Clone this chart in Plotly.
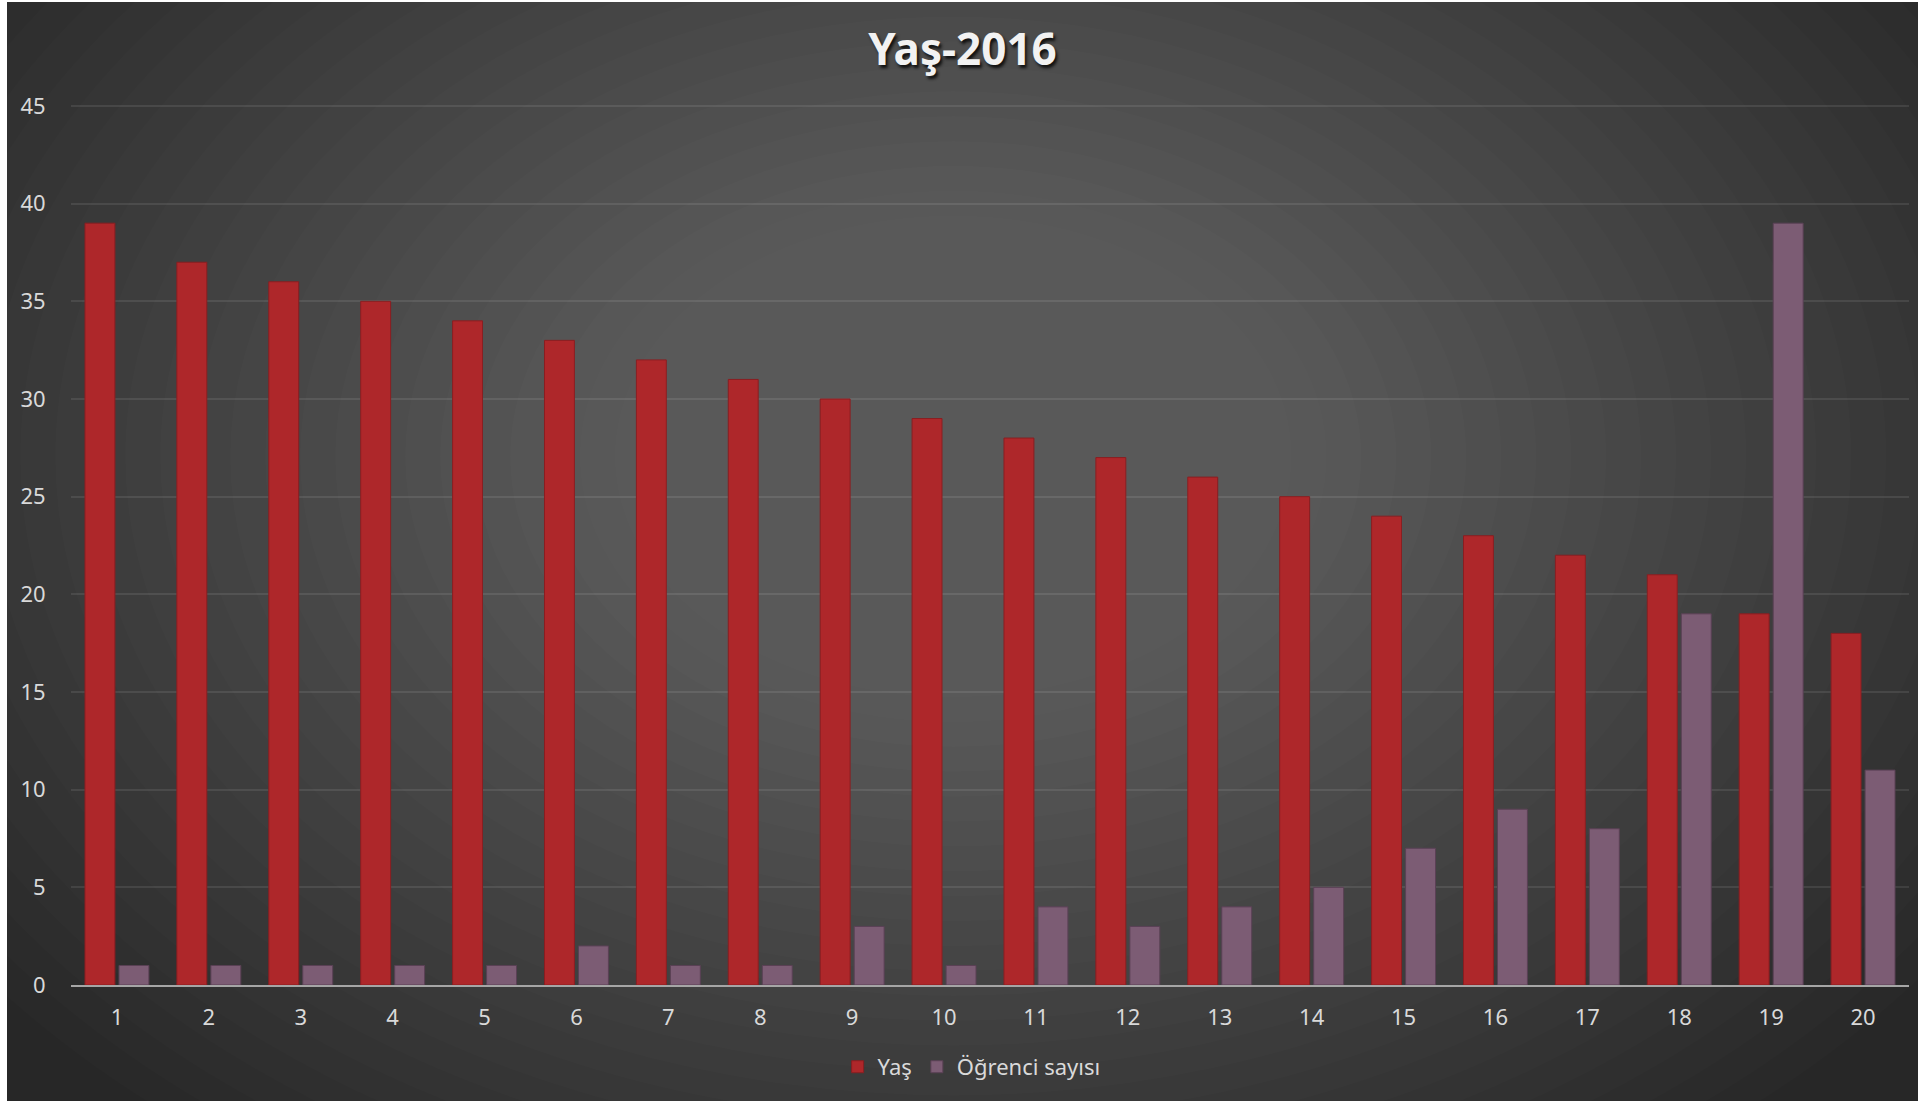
import plotly.graph_objects as go

categories = [str(i) for i in range(1, 21)]
yas = [39, 37, 36, 35, 34, 33, 32, 31, 30, 29, 28, 27, 26, 25, 24, 23, 22, 21, 19, 18]
ogrenci = [1, 1, 1, 1, 1, 2, 1, 1, 3, 1, 4, 3, 4, 5, 7, 9, 8, 19, 39, 11]
y_ticks = [0, 5, 10, 15, 20, 25, 30, 35, 40, 45]

fig = go.Figure()
fig.add_trace(go.Bar(x=categories, y=yas, name="Yaş",
                     marker=dict(color="#ae272a", line=dict(color="#8a1e21", width=1))))
fig.add_trace(go.Bar(x=categories, y=ogrenci, name="Öğrenci sayısı",
                     marker=dict(color="#7c5c74", line=dict(color="#5a4055", width=1))))

# soft radial glow behind the chart (stacked translucent ellipses)
n = 26
shapes = []
for i in range(n):
    f = 1 - 0.75 * i / n
    rx, ry = 0.66 * f, 0.98 * f
    shapes.append(dict(type="circle", xref="paper", yref="paper",
                       x0=0.48 - rx, x1=0.48 + rx, y0=0.6 - ry, y1=0.6 + ry,
                       fillcolor="rgba(255,255,255,0.0115)", line=dict(width=0), layer="below"))

fig.update_layout(
    width=1911, height=1099,
    paper_bgcolor="#272727", plot_bgcolor="rgba(0,0,0,0)",
    shapes=shapes,
    title=dict(text="<b>Yaş-2016</b>", x=0.5, xanchor="center", y=0.957, yanchor="middle",
               font=dict(family="Noto Sans", size=44, color="#f2f2f2",
                         shadow="2px 3px 3px #111")),
    font=dict(family="Noto Sans", size=22, color="#d9d9d9"),
    margin=dict(l=64, r=9, t=102, b=116),
    barmode="group", bargap=0.26, bargroupgap=0.12,
    showlegend=True,
    legend=dict(orientation="h", x=0.49, xanchor="center", y=-0.093, yanchor="middle",
                bgcolor="rgba(0,0,0,0)",
                font=dict(size=22, color="#d9d9d9"), itemwidth=30, traceorder="normal"),
    xaxis=dict(showgrid=False, showline=True, linecolor="#a6a6a6", linewidth=2,
               ticks="outside", ticklen=12, tickcolor="rgba(0,0,0,0)"),
    yaxis=dict(range=[0, 45.1], tickvals=y_ticks, gridcolor="rgba(255,255,255,0.09)",
               gridwidth=1.5, zeroline=False, ticks="outside", ticklen=20,
               tickcolor="rgba(0,0,0,0)"),
)

fig.write_html("out.html", post_script="document.body.style.margin='2px 0 0 7px';")
